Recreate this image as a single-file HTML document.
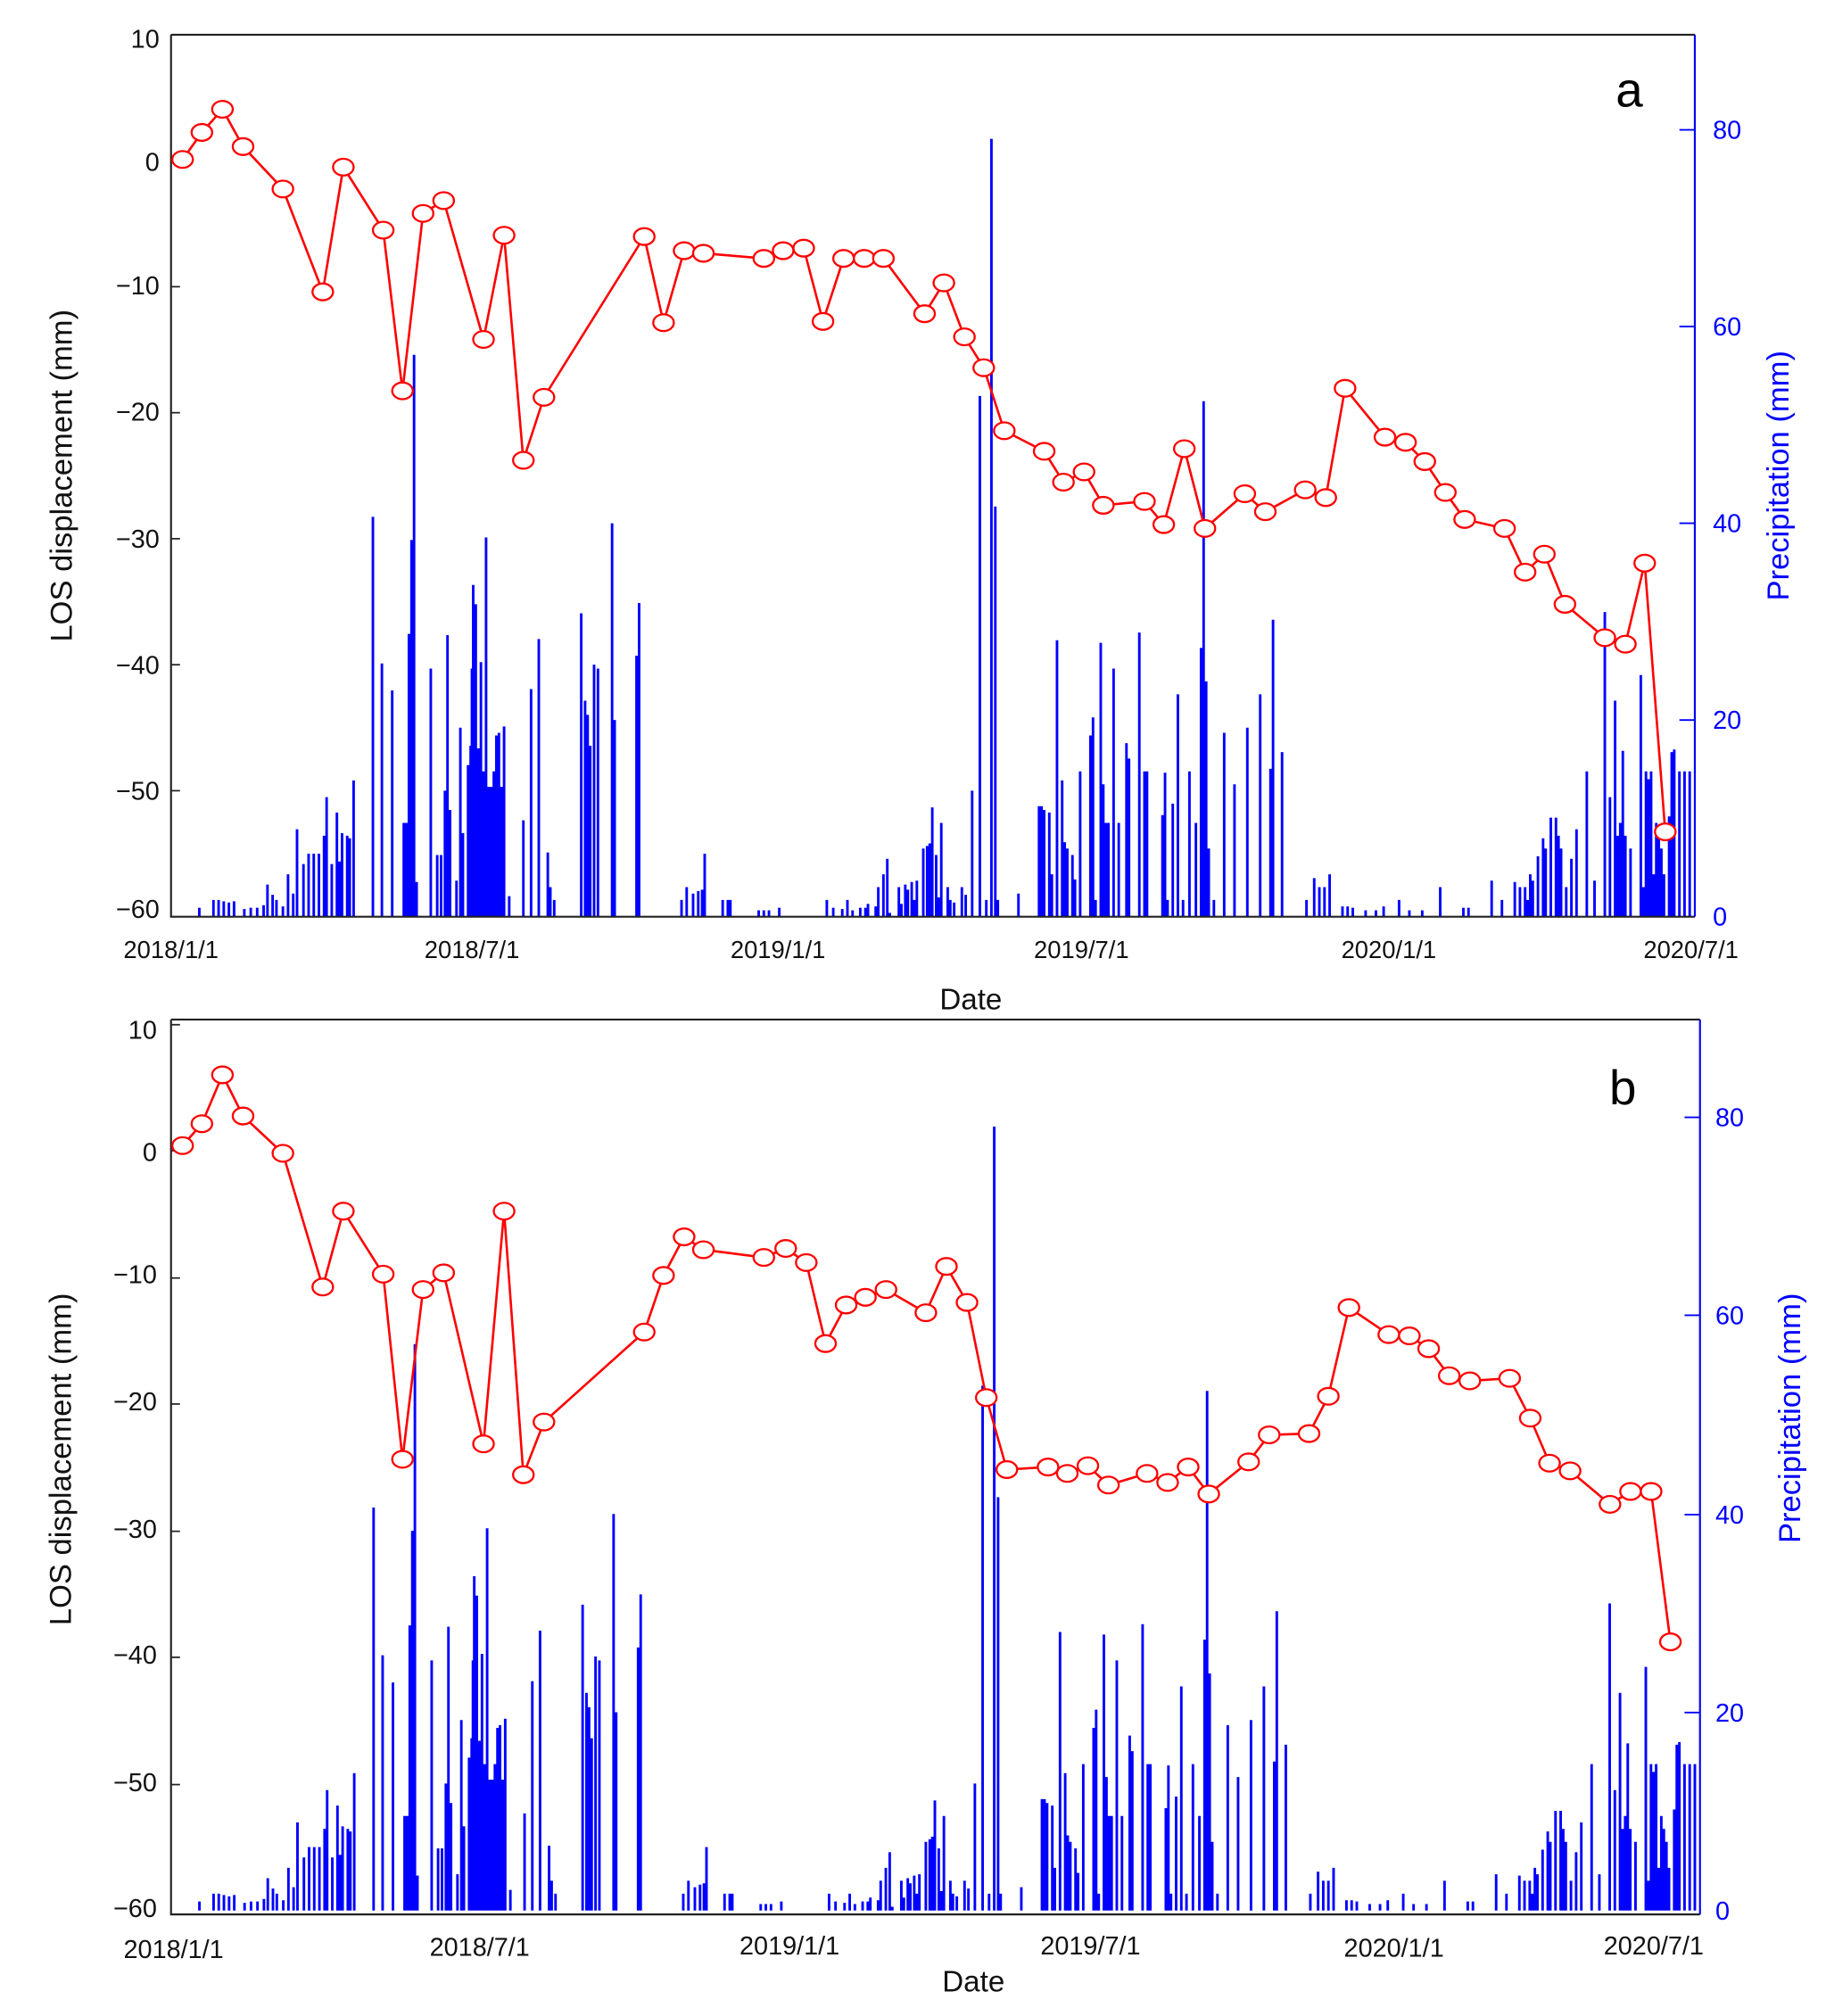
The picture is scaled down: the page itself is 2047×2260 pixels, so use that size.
<!DOCTYPE html>
<html><head><meta charset="utf-8"><style>
html,body{margin:0;padding:0;background:#fff;}
svg{display:block;}
text{font-family:"Liberation Sans",Arial,sans-serif;}
</style></head><body>
<svg width="2047" height="2260" viewBox="0 0 1420 1568" preserveAspectRatio="none" xmlns="http://www.w3.org/2000/svg">
<defs>
<path id="bars" fill="none" stroke="#0000ff" stroke-width="2" d="M155 713V706M166 713V700M170 713V700M174 713V701M178 713V702M182 713V701M190 713V707M195 713V706M200 713V706M205 713V704M208 713V688M212 713V696M215 713V700M220 713V705M224 713V680M228 713V695M231 713V645M236 713V672M240 713V664M244 713V664M248 713V664M252 713V650M254 713V620M258 713V672M262 713V632M264 713V670M266 713V648M270 713V650M272 713V652M275 713V607M290 713V402M297 713V516M305 713V537M314 713V640M316 713V640M318 713V493M320 713V420M322 713V276M324 713V686M335 713V520M340 713V665M343 713V665M346 713V615M348 713V494M350 713V630M355 713V685M358 713V566M360 713V648M364 713V595M366 713V580M367 713V520M368 713V455M370 713V470M372 713V582M374 713V515M376 713V600M378 713V418M380 713V612M382 713V612M384 713V600M386 713V572M388 713V570M390 713V612M392 713V565M396 713V697M407 713V638M413 713V536M419 713V497M426 713V663M428 713V690M431 713V700M452 713V477M455 713V545M457 713V556M459 713V580M462 713V517M465 713V520M476 713V407M478 713V560M495 713V510M497 713V469M530 713V700M534 713V690M539 713V695M543 713V693M546 713V692M548 713V664M562 713V700M566 713V700M568 713V700M590 713V708M594 713V708M598 713V708M606 713V706M643 713V700M648 713V706M655 713V707M659 713V700M663 713V708M669 713V706M673 713V706M675 713V703M681 713V705M683 713V690M687 713V680M690 713V668M692 713V710M699 713V690M701 713V703M704 713V688M706 713V692M709 713V686M711 713V700M713 713V685M718 713V660M721 713V658M723 713V656M725 713V628M728 713V665M730 713V698M732 713V640M737 713V690M739 713V700M742 713V702M748 713V690M751 713V696M756 713V615M762 713V308M767 713V700M771 713V108M774 713V394M776 713V700M792 713V695M808 713V627M810 713V627M812 713V630M816 713V632M818 713V680M822 713V498M826 713V607M828 713V655M830 713V660M834 713V665M836 713V684M840 713V600M848 713V572M850 713V558M852 713V700M856 713V500M858 713V610M860 713V640M862 713V640M866 713V520M870 713V640M876 713V578M878 713V590M886 713V492M890 713V600M892 713V600M904 713V634M906 713V601M908 713V700M912 713V625M916 713V540M920 713V700M925 713V600M930 713V640M934 713V504M936 713V312M938 713V530M940 713V660M944 713V700M952 713V570M960 713V610M970 713V566M980 713V540M988 713V598M990 713V482M997 713V585M1016 713V700M1022 713V683M1026 713V690M1030 713V690M1034 713V680M1044 713V705M1048 713V705M1052 713V706M1062 713V708M1070 713V708M1076 713V705M1088 713V700M1096 713V708M1106 713V708M1120 713V690M1138 713V706M1142 713V706M1160 713V685M1168 713V700M1178 713V686M1182 713V690M1186 713V690M1188 713V700M1190 713V680M1192 713V685M1196 713V666M1200 713V652M1202 713V660M1206 713V636M1210 713V636M1212 713V650M1214 713V660M1218 713V690M1222 713V668M1226 713V645M1234 713V600M1240 713V685M1248 713V476M1252 713V620M1256 713V545M1258 713V650M1260 713V640M1262 713V584M1264 713V650M1268 713V660M1276 713V525M1278 713V690M1280 713V600M1282 713V606M1284 713V600M1286 713V680M1288 713V640M1290 713V650M1292 713V660M1294 713V680M1298 713V635M1300 713V585M1302 713V583M1306 713V600M1310 713V600M1314 713V600"/>
</defs>

<!-- ===== Panel a ===== -->
<use href="#bars"/>
<path d="M133 27H1318M133 27V713H1318" fill="none" stroke="#222" stroke-width="1.5"/>
<line x1="1318" y1="27" x2="1318" y2="713" stroke="#0000ff" stroke-width="1.5"/>
<g stroke="#222" stroke-width="1.2">
<line x1="133" y1="27" x2="140" y2="27"/><line x1="133" y1="125" x2="140" y2="125"/><line x1="133" y1="223" x2="140" y2="223"/><line x1="133" y1="321" x2="140" y2="321"/><line x1="133" y1="419" x2="140" y2="419"/><line x1="133" y1="517" x2="140" y2="517"/><line x1="133" y1="615" x2="140" y2="615"/>
</g>
<g stroke="#0000ff" stroke-width="1.3">
<line x1="1306" y1="101" x2="1318" y2="101"/><line x1="1306" y1="254" x2="1318" y2="254"/><line x1="1306" y1="407" x2="1318" y2="407"/><line x1="1306" y1="560" x2="1318" y2="560"/>
</g>
<g font-size="20" text-anchor="end" fill="#111">
<text x="124" y="37">10</text><text x="124" y="133">0</text><text x="124" y="229">−10</text><text x="124" y="327">−20</text><text x="124" y="426">−30</text><text x="124" y="524">−40</text><text x="124" y="622">−50</text><text x="124" y="714">−60</text>
</g>
<g font-size="20" fill="#0000ff">
<text x="1332" y="108">80</text><text x="1332" y="261">60</text><text x="1332" y="414">40</text><text x="1332" y="567">20</text><text x="1332" y="720">0</text>
</g>
<g font-size="19" text-anchor="middle" fill="#111">
<text x="133" y="745">2018/1/1</text><text x="367" y="745">2018/7/1</text><text x="605" y="745">2019/1/1</text><text x="841" y="745">2019/7/1</text><text x="1080" y="745">2020/1/1</text><text x="1315" y="745">2020/7/1</text>
</g>
<text x="755" y="785" font-size="23" text-anchor="middle" fill="#111">Date</text>
<text transform="translate(56,370) rotate(-90)" font-size="24" text-anchor="middle" fill="#111">LOS displacement (mm)</text>
<text transform="translate(1391,370) rotate(-90)" font-size="24" text-anchor="middle" fill="#0000ff">Precipitation (mm)</text>
<text x="1267" y="83" font-size="38" text-anchor="middle" fill="#000">a</text>
<polyline fill="none" stroke="#ff0000" stroke-width="1.8" points="142,124 157,103 173,85 189,114 220,147 251,227 267,130 298,179 313,304 329,166 345,156 376,264 392,183 407,358 423,309 501,184 516,251 532,195 547,197 594,201 609,195 625,193 640,250 656,201 672,201 687,201 719,244 734,220 750,262 765,286 781,335 812,351 827,375 843,367 858,393 890,390 905,408 921,349 937,411 968,384 984,398 1015,381 1031,387 1046,302 1077,340 1093,344 1108,359 1124,383 1139,404 1170,411 1186,445 1201,431 1217,470 1248,496 1264,501 1279,438 1295,647"/>
<g fill="#fff" stroke="#ff0000" stroke-width="1.6">
<circle cx="142" cy="124" r="7"/><circle cx="157" cy="103" r="7"/><circle cx="173" cy="85" r="7"/><circle cx="189" cy="114" r="7"/><circle cx="220" cy="147" r="7"/><circle cx="251" cy="227" r="7"/><circle cx="267" cy="130" r="7"/><circle cx="298" cy="179" r="7"/><circle cx="313" cy="304" r="7"/><circle cx="329" cy="166" r="7"/><circle cx="345" cy="156" r="7"/><circle cx="376" cy="264" r="7"/><circle cx="392" cy="183" r="7"/><circle cx="407" cy="358" r="7"/><circle cx="423" cy="309" r="7"/><circle cx="501" cy="184" r="7"/><circle cx="516" cy="251" r="7"/><circle cx="532" cy="195" r="7"/><circle cx="547" cy="197" r="7"/><circle cx="594" cy="201" r="7"/><circle cx="609" cy="195" r="7"/><circle cx="625" cy="193" r="7"/><circle cx="640" cy="250" r="7"/><circle cx="656" cy="201" r="7"/><circle cx="672" cy="201" r="7"/><circle cx="687" cy="201" r="7"/><circle cx="719" cy="244" r="7"/><circle cx="734" cy="220" r="7"/><circle cx="750" cy="262" r="7"/><circle cx="765" cy="286" r="7"/><circle cx="781" cy="335" r="7"/><circle cx="812" cy="351" r="7"/><circle cx="827" cy="375" r="7"/><circle cx="843" cy="367" r="7"/><circle cx="858" cy="393" r="7"/><circle cx="890" cy="390" r="7"/><circle cx="905" cy="408" r="7"/><circle cx="921" cy="349" r="7"/><circle cx="937" cy="411" r="7"/><circle cx="968" cy="384" r="7"/><circle cx="984" cy="398" r="7"/><circle cx="1015" cy="381" r="7"/><circle cx="1031" cy="387" r="7"/><circle cx="1046" cy="302" r="7"/><circle cx="1077" cy="340" r="7"/><circle cx="1093" cy="344" r="7"/><circle cx="1108" cy="359" r="7"/><circle cx="1124" cy="383" r="7"/><circle cx="1139" cy="404" r="7"/><circle cx="1170" cy="411" r="7"/><circle cx="1186" cy="445" r="7"/><circle cx="1201" cy="431" r="7"/><circle cx="1217" cy="470" r="7"/><circle cx="1248" cy="496" r="7"/><circle cx="1264" cy="501" r="7"/><circle cx="1279" cy="438" r="7"/><circle cx="1295" cy="647" r="7"/>
</g>

<!-- ===== Panel b ===== -->
<use href="#bars" transform="translate(133,1486) scale(1.0034,1.008) translate(-133,-713)"/>
<path d="M133 793H1322M133 793V1489H1322" fill="none" stroke="#222" stroke-width="1.5"/>
<line x1="1322" y1="793" x2="1322" y2="1489" stroke="#0000ff" stroke-width="1.5"/>
<g stroke="#222" stroke-width="1.2">
<line x1="133" y1="797" x2="140" y2="797"/><line x1="133" y1="895" x2="140" y2="895"/><line x1="133" y1="994" x2="140" y2="994"/><line x1="133" y1="1092" x2="140" y2="1092"/><line x1="133" y1="1191" x2="140" y2="1191"/><line x1="133" y1="1289" x2="140" y2="1289"/><line x1="133" y1="1388" x2="140" y2="1388"/>
</g>
<g stroke="#0000ff" stroke-width="1.3">
<line x1="1310" y1="869" x2="1322" y2="869"/><line x1="1310" y1="1023" x2="1322" y2="1023"/><line x1="1310" y1="1178" x2="1322" y2="1178"/><line x1="1310" y1="1332" x2="1322" y2="1332"/>
</g>
<g font-size="20" text-anchor="end" fill="#111">
<text x="122" y="808">10</text><text x="122" y="903">0</text><text x="122" y="998">−10</text><text x="122" y="1097">−20</text><text x="122" y="1196">−30</text><text x="122" y="1294">−40</text><text x="122" y="1393">−50</text><text x="122" y="1491">−60</text>
</g>
<g font-size="20" fill="#0000ff">
<text x="1334" y="876">80</text><text x="1334" y="1030">60</text><text x="1334" y="1185">40</text><text x="1334" y="1339">20</text><text x="1334" y="1493">0</text>
</g>
<g font-size="20" text-anchor="middle" fill="#111">
<text x="135" y="1523">2018/1/1</text><text x="373" y="1521">2018/7/1</text><text x="614" y="1520">2019/1/1</text><text x="848" y="1520">2019/7/1</text><text x="1084" y="1522">2020/1/1</text><text x="1286" y="1520">2020/7/1</text>
</g>
<text x="757" y="1549" font-size="23" text-anchor="middle" fill="#111">Date</text>
<text transform="translate(55,1135) rotate(-90)" font-size="24" text-anchor="middle" fill="#111">LOS displacement (mm)</text>
<text transform="translate(1400,1103) rotate(-90)" font-size="24" text-anchor="middle" fill="#0000ff">Precipitation (mm)</text>
<text x="1262" y="859" font-size="38" text-anchor="middle" fill="#000">b</text>
<polyline fill="none" stroke="#ff0000" stroke-width="1.8" points="142,891 157,874 173,836 189,868 220,897 251,1001 267,942 298,991 313,1135 329,1003 345,990 376,1123 392,942 407,1147 423,1106 501,1036 516,992 532,962 547,972 594,978 611,971 627,982 642,1045 658,1015 673,1009 689,1003 720,1021 736,985 752,1013 767,1087 783,1143 815,1141 830,1146 846,1140 862,1155 892,1146 908,1153 924,1141 940,1162 971,1137 987,1116 1018,1115 1033,1086 1049,1017 1080,1038 1096,1039 1111,1049 1127,1070 1143,1074 1174,1072 1190,1103 1205,1138 1221,1144 1252,1170 1268,1160 1284,1160 1299,1277"/>
<g fill="#fff" stroke="#ff0000" stroke-width="1.6">
<circle cx="142" cy="891" r="7"/><circle cx="157" cy="874" r="7"/><circle cx="173" cy="836" r="7"/><circle cx="189" cy="868" r="7"/><circle cx="220" cy="897" r="7"/><circle cx="251" cy="1001" r="7"/><circle cx="267" cy="942" r="7"/><circle cx="298" cy="991" r="7"/><circle cx="313" cy="1135" r="7"/><circle cx="329" cy="1003" r="7"/><circle cx="345" cy="990" r="7"/><circle cx="376" cy="1123" r="7"/><circle cx="392" cy="942" r="7"/><circle cx="407" cy="1147" r="7"/><circle cx="423" cy="1106" r="7"/><circle cx="501" cy="1036" r="7"/><circle cx="516" cy="992" r="7"/><circle cx="532" cy="962" r="7"/><circle cx="547" cy="972" r="7"/><circle cx="594" cy="978" r="7"/><circle cx="611" cy="971" r="7"/><circle cx="627" cy="982" r="7"/><circle cx="642" cy="1045" r="7"/><circle cx="658" cy="1015" r="7"/><circle cx="673" cy="1009" r="7"/><circle cx="689" cy="1003" r="7"/><circle cx="720" cy="1021" r="7"/><circle cx="736" cy="985" r="7"/><circle cx="752" cy="1013" r="7"/><circle cx="767" cy="1087" r="7"/><circle cx="783" cy="1143" r="7"/><circle cx="815" cy="1141" r="7"/><circle cx="830" cy="1146" r="7"/><circle cx="846" cy="1140" r="7"/><circle cx="862" cy="1155" r="7"/><circle cx="892" cy="1146" r="7"/><circle cx="908" cy="1153" r="7"/><circle cx="924" cy="1141" r="7"/><circle cx="940" cy="1162" r="7"/><circle cx="971" cy="1137" r="7"/><circle cx="987" cy="1116" r="7"/><circle cx="1018" cy="1115" r="7"/><circle cx="1033" cy="1086" r="7"/><circle cx="1049" cy="1017" r="7"/><circle cx="1080" cy="1038" r="7"/><circle cx="1096" cy="1039" r="7"/><circle cx="1111" cy="1049" r="7"/><circle cx="1127" cy="1070" r="7"/><circle cx="1143" cy="1074" r="7"/><circle cx="1174" cy="1072" r="7"/><circle cx="1190" cy="1103" r="7"/><circle cx="1205" cy="1138" r="7"/><circle cx="1221" cy="1144" r="7"/><circle cx="1252" cy="1170" r="7"/><circle cx="1268" cy="1160" r="7"/><circle cx="1284" cy="1160" r="7"/><circle cx="1299" cy="1277" r="7"/>
</g>
</svg>
<script>
document.querySelectorAll('circle').forEach(function(c){
  var e=document.createElementNS('http://www.w3.org/2000/svg','ellipse');
  e.setAttribute('cx',c.getAttribute('cx'));e.setAttribute('cy',c.getAttribute('cy'));
  e.setAttribute('rx','8');e.setAttribute('ry','6.5');
  c.parentNode.replaceChild(e,c);
});
</script>
</body></html>
